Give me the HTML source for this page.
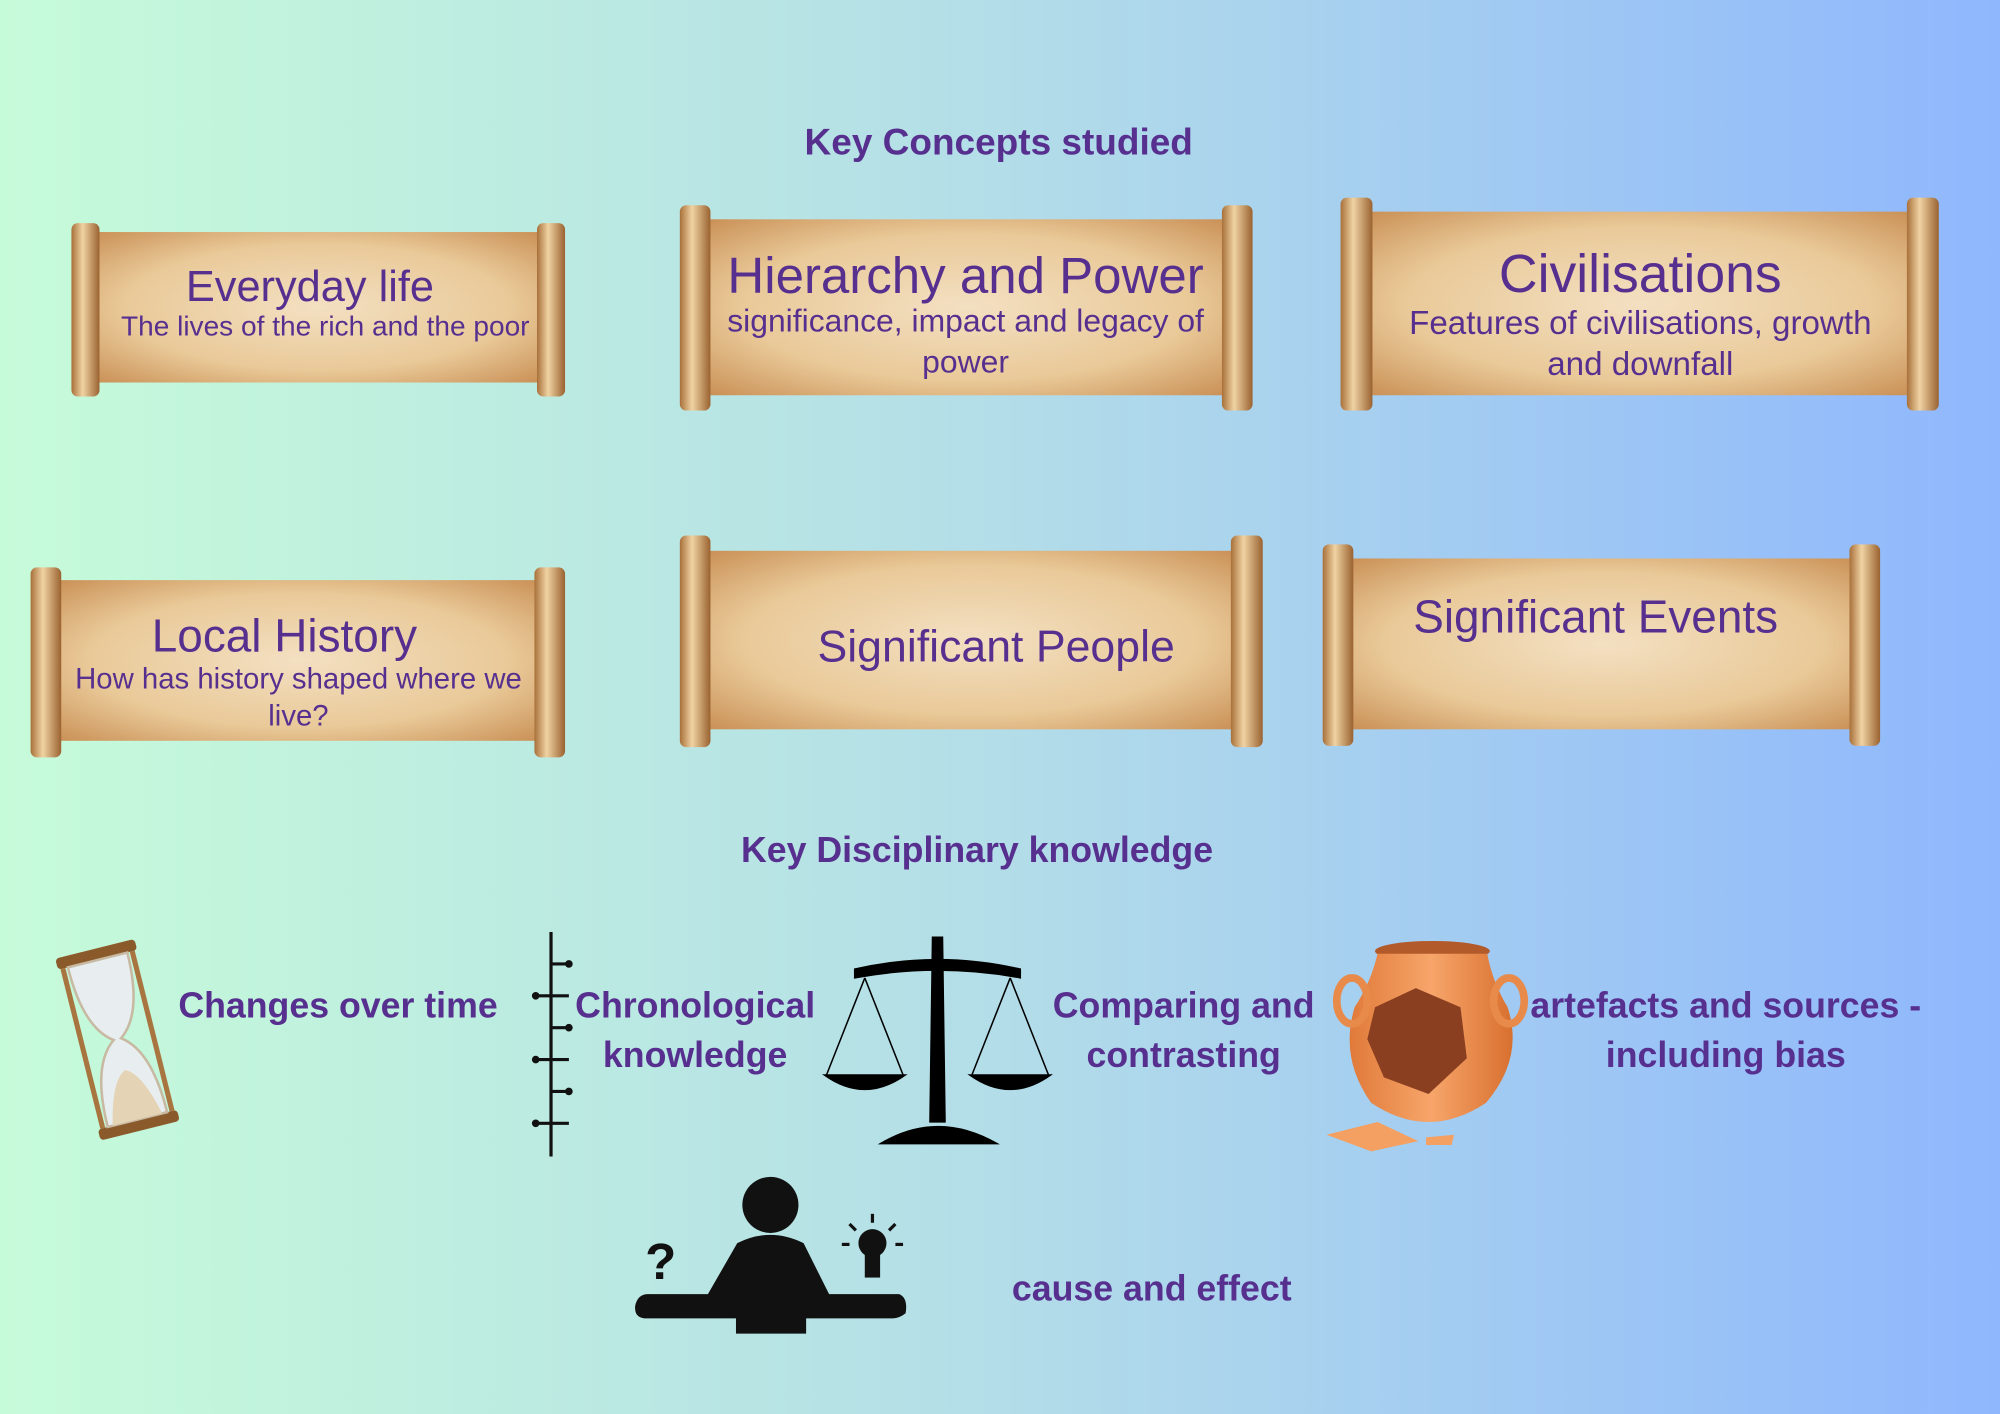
<!DOCTYPE html>
<html><head><meta charset="utf-8"><style>
html,body{margin:0;padding:0;width:2000px;height:1414px;overflow:hidden}
svg{display:block}
text{font-family:"Liberation Sans",sans-serif;fill:#57308f;text-anchor:middle}
.b{font-weight:bold}
</style></head><body>
<svg width="2000" height="1414" viewBox="0 0 1568 1109" preserveAspectRatio="none">
<defs>
<linearGradient id="bg" x1="0" x2="1" y1="0" y2="0">
<stop offset="0" stop-color="#c6fbd9"/><stop offset="0.5" stop-color="#b3dde8"/><stop offset="1" stop-color="#8fb7fd"/>
</linearGradient>
<radialGradient id="parch" cx="0.5" cy="0.5" r="0.7">
<stop offset="0" stop-color="#f3e0c2"/><stop offset="0.6" stop-color="#e9c998"/><stop offset="1" stop-color="#c98f55"/>
</radialGradient>
<linearGradient id="roll" x1="0" x2="1">
<stop offset="0" stop-color="#a8703a"/><stop offset="0.4" stop-color="#f0d3a3"/><stop offset="1" stop-color="#9a6230"/>
</linearGradient>
<linearGradient id="pot" x1="0" x2="1">
<stop offset="0" stop-color="#e07a3a"/><stop offset="0.5" stop-color="#f7a56a"/><stop offset="1" stop-color="#d8702f"/>
</linearGradient>
</defs>
<rect width="1568" height="1109" fill="url(#bg)"/>

<text class="b" x="783" y="121" font-size="29">Key Concepts studied</text>

<g>
<rect x="68" y="182" width="362" height="118" fill="url(#parch)"/>
<rect x="56" y="175" width="22" height="136" rx="5" fill="url(#roll)"/>
<rect x="421" y="175" width="22" height="136" rx="5" fill="url(#roll)"/>
</g>
<g>
<rect x="548" y="172" width="420" height="138" fill="url(#parch)"/>
<rect x="533" y="161" width="24" height="161" rx="5" fill="url(#roll)"/>
<rect x="958" y="161" width="24" height="161" rx="5" fill="url(#roll)"/>
</g>
<g>
<rect x="1066" y="166" width="440" height="144" fill="url(#parch)"/>
<rect x="1051" y="155" width="25" height="167" rx="5" fill="url(#roll)"/>
<rect x="1495" y="155" width="25" height="167" rx="5" fill="url(#roll)"/>
</g>
<g>
<rect x="38" y="455" width="392" height="126" fill="url(#parch)"/>
<rect x="24" y="445" width="24" height="149" rx="5" fill="url(#roll)"/>
<rect x="419" y="445" width="24" height="149" rx="5" fill="url(#roll)"/>
</g>
<g>
<rect x="548" y="432" width="428" height="140" fill="url(#parch)"/>
<rect x="533" y="420" width="24" height="166" rx="5" fill="url(#roll)"/>
<rect x="965" y="420" width="25" height="166" rx="5" fill="url(#roll)"/>
</g>
<g>
<rect x="1052" y="438" width="410" height="134" fill="url(#parch)"/>
<rect x="1037" y="427" width="24" height="158" rx="5" fill="url(#roll)"/>
<rect x="1450" y="427" width="24" height="158" rx="5" fill="url(#roll)"/>
</g>

<text x="243" y="236" font-size="34">Everyday life</text>
<text x="255" y="263" font-size="22">The lives of the rich and the poor</text>
<text x="757" y="230" font-size="40">Hierarchy and Power</text>
<text x="757" y="260" font-size="25">significance, impact and legacy of</text>
<text x="757" y="292" font-size="25">power</text>
<text x="1286" y="229" font-size="42">Civilisations</text>
<text x="1286" y="262" font-size="26">Features of civilisations, growth</text>
<text x="1286" y="294" font-size="26">and downfall</text>
<text x="223" y="511" font-size="36">Local History</text>
<text x="234" y="540" font-size="23">How has history shaped where we</text>
<text x="234" y="569" font-size="23">live?</text>
<text x="781" y="519" font-size="35">Significant People</text>
<text x="1251" y="496" font-size="36">Significant Events</text>

<text class="b" x="766" y="676" font-size="28">Key Disciplinary knowledge</text>

<text class="b" x="265" y="798" font-size="28">Changes over time</text>
<text class="b" x="545" y="798" font-size="28">Chronological</text>
<text class="b" x="545" y="837" font-size="28">knowledge</text>
<text class="b" x="928" y="798" font-size="28">Comparing and</text>
<text class="b" x="928" y="837" font-size="28">contrasting</text>
<text class="b" x="1353" y="798" font-size="28">artefacts and sources -</text>
<text class="b" x="1353" y="837" font-size="28">including bias</text>
<text class="b" x="903" y="1020" font-size="28">cause and effect</text>

<g transform="rotate(-14 92 815)">
<rect x="60" y="742" width="64" height="9" rx="3" fill="#8a5a2b"/>
<rect x="60" y="880" width="64" height="9" rx="3" fill="#8a5a2b"/>
<path d="M68 751 L116 751 Q116 800 95 815 Q116 830 116 880 L68 880 Q68 830 89 815 Q68 800 68 751Z" fill="#e8eef0" stroke="#c7b9a2" stroke-width="2"/>
<path d="M72 880 Q80 845 92 840 Q104 845 112 880Z" fill="#e4d3b5"/>
<rect x="62" y="751" width="4" height="129" fill="#a8743f"/>
<rect x="118" y="751" width="4" height="129" fill="#a8743f"/>
</g>

<g stroke="#111" stroke-width="2.5">
<line x1="432" y1="731" x2="432" y2="907"/>
<line x1="418" y1="781" x2="446" y2="781"/><line x1="418" y1="831" x2="446" y2="831"/><line x1="418" y1="881" x2="446" y2="881"/>
<line x1="432" y1="756" x2="446" y2="756"/><line x1="432" y1="806" x2="446" y2="806"/><line x1="432" y1="856" x2="446" y2="856"/>
</g>
<g fill="#111"><circle cx="420" cy="781" r="3"/><circle cx="420" cy="831" r="3"/><circle cx="420" cy="881" r="3"/><circle cx="446" cy="756" r="3"/><circle cx="446" cy="806" r="3"/><circle cx="446" cy="856" r="3"/></g>

<g fill="#000" stroke="#000">
<path d="M670 760 Q735 745 800 760 L800 767 Q735 755 670 767Z"/>
<path d="M731 735 L739 735 L741 880 L729 880Z"/>
<path d="M690 897 Q735 870 782 897Z"/>
<line x1="678" y1="767" x2="648" y2="843" stroke-width="1.2"/><line x1="678" y1="767" x2="708" y2="843" stroke-width="1.2"/>
<line x1="792" y1="767" x2="762" y2="843" stroke-width="1.2"/><line x1="792" y1="767" x2="822" y2="843" stroke-width="1.2"/>
<path d="M646 843 L710 843 Q678 866 646 843Z"/>
<path d="M760 843 L824 843 Q792 866 760 843Z"/>
</g>

<g>
<ellipse cx="1123" cy="746" rx="45" ry="8" fill="#b35a2a"/>
<path d="M1080 748 Q1075 770 1062 790 Q1050 830 1075 865 Q1120 895 1165 865 Q1195 830 1182 790 Q1170 770 1166 748Z" fill="url(#pot)"/>
<path d="M1078 790 L1110 775 L1145 790 L1150 830 L1120 858 L1085 845 L1072 815Z" fill="#8a3f20"/>
<ellipse cx="1060" cy="785" rx="12" ry="18" fill="none" stroke="#e88a4a" stroke-width="6"/>
<ellipse cx="1183" cy="785" rx="12" ry="18" fill="none" stroke="#e88a4a" stroke-width="6"/>
<path d="M1040 890 L1080 880 L1112 895 L1075 903Z" fill="#f3a062"/>
<path d="M1118 892 L1140 890 L1138 898 L1118 898Z" fill="#f3a062"/>
</g>

<g fill="#111">
<circle cx="604" cy="945" r="22"/>
<path d="M578 975 Q604 962 630 975 L650 1015 L705 1015 Q712 1018 710 1030 Q705 1034 700 1034 L632 1034 L632 1046 L577 1046 L577 1034 L505 1034 Q497 1033 498 1024 Q500 1015 508 1015 L555 1015Z"/>
<text x="518" y="1003" font-size="40" class="b" style="fill:#111">?</text>
<circle cx="684" cy="975" r="11"/>
<rect x="678" y="984" width="12" height="18"/>
<g stroke="#111" stroke-width="2.5"><line x1="684" y1="952" x2="684" y2="959"/><line x1="666" y1="960" x2="671" y2="965"/><line x1="702" y1="960" x2="697" y2="965"/><line x1="660" y1="976" x2="666" y2="976"/><line x1="702" y1="976" x2="708" y2="976"/></g>
</g>
</svg>
</body></html>
